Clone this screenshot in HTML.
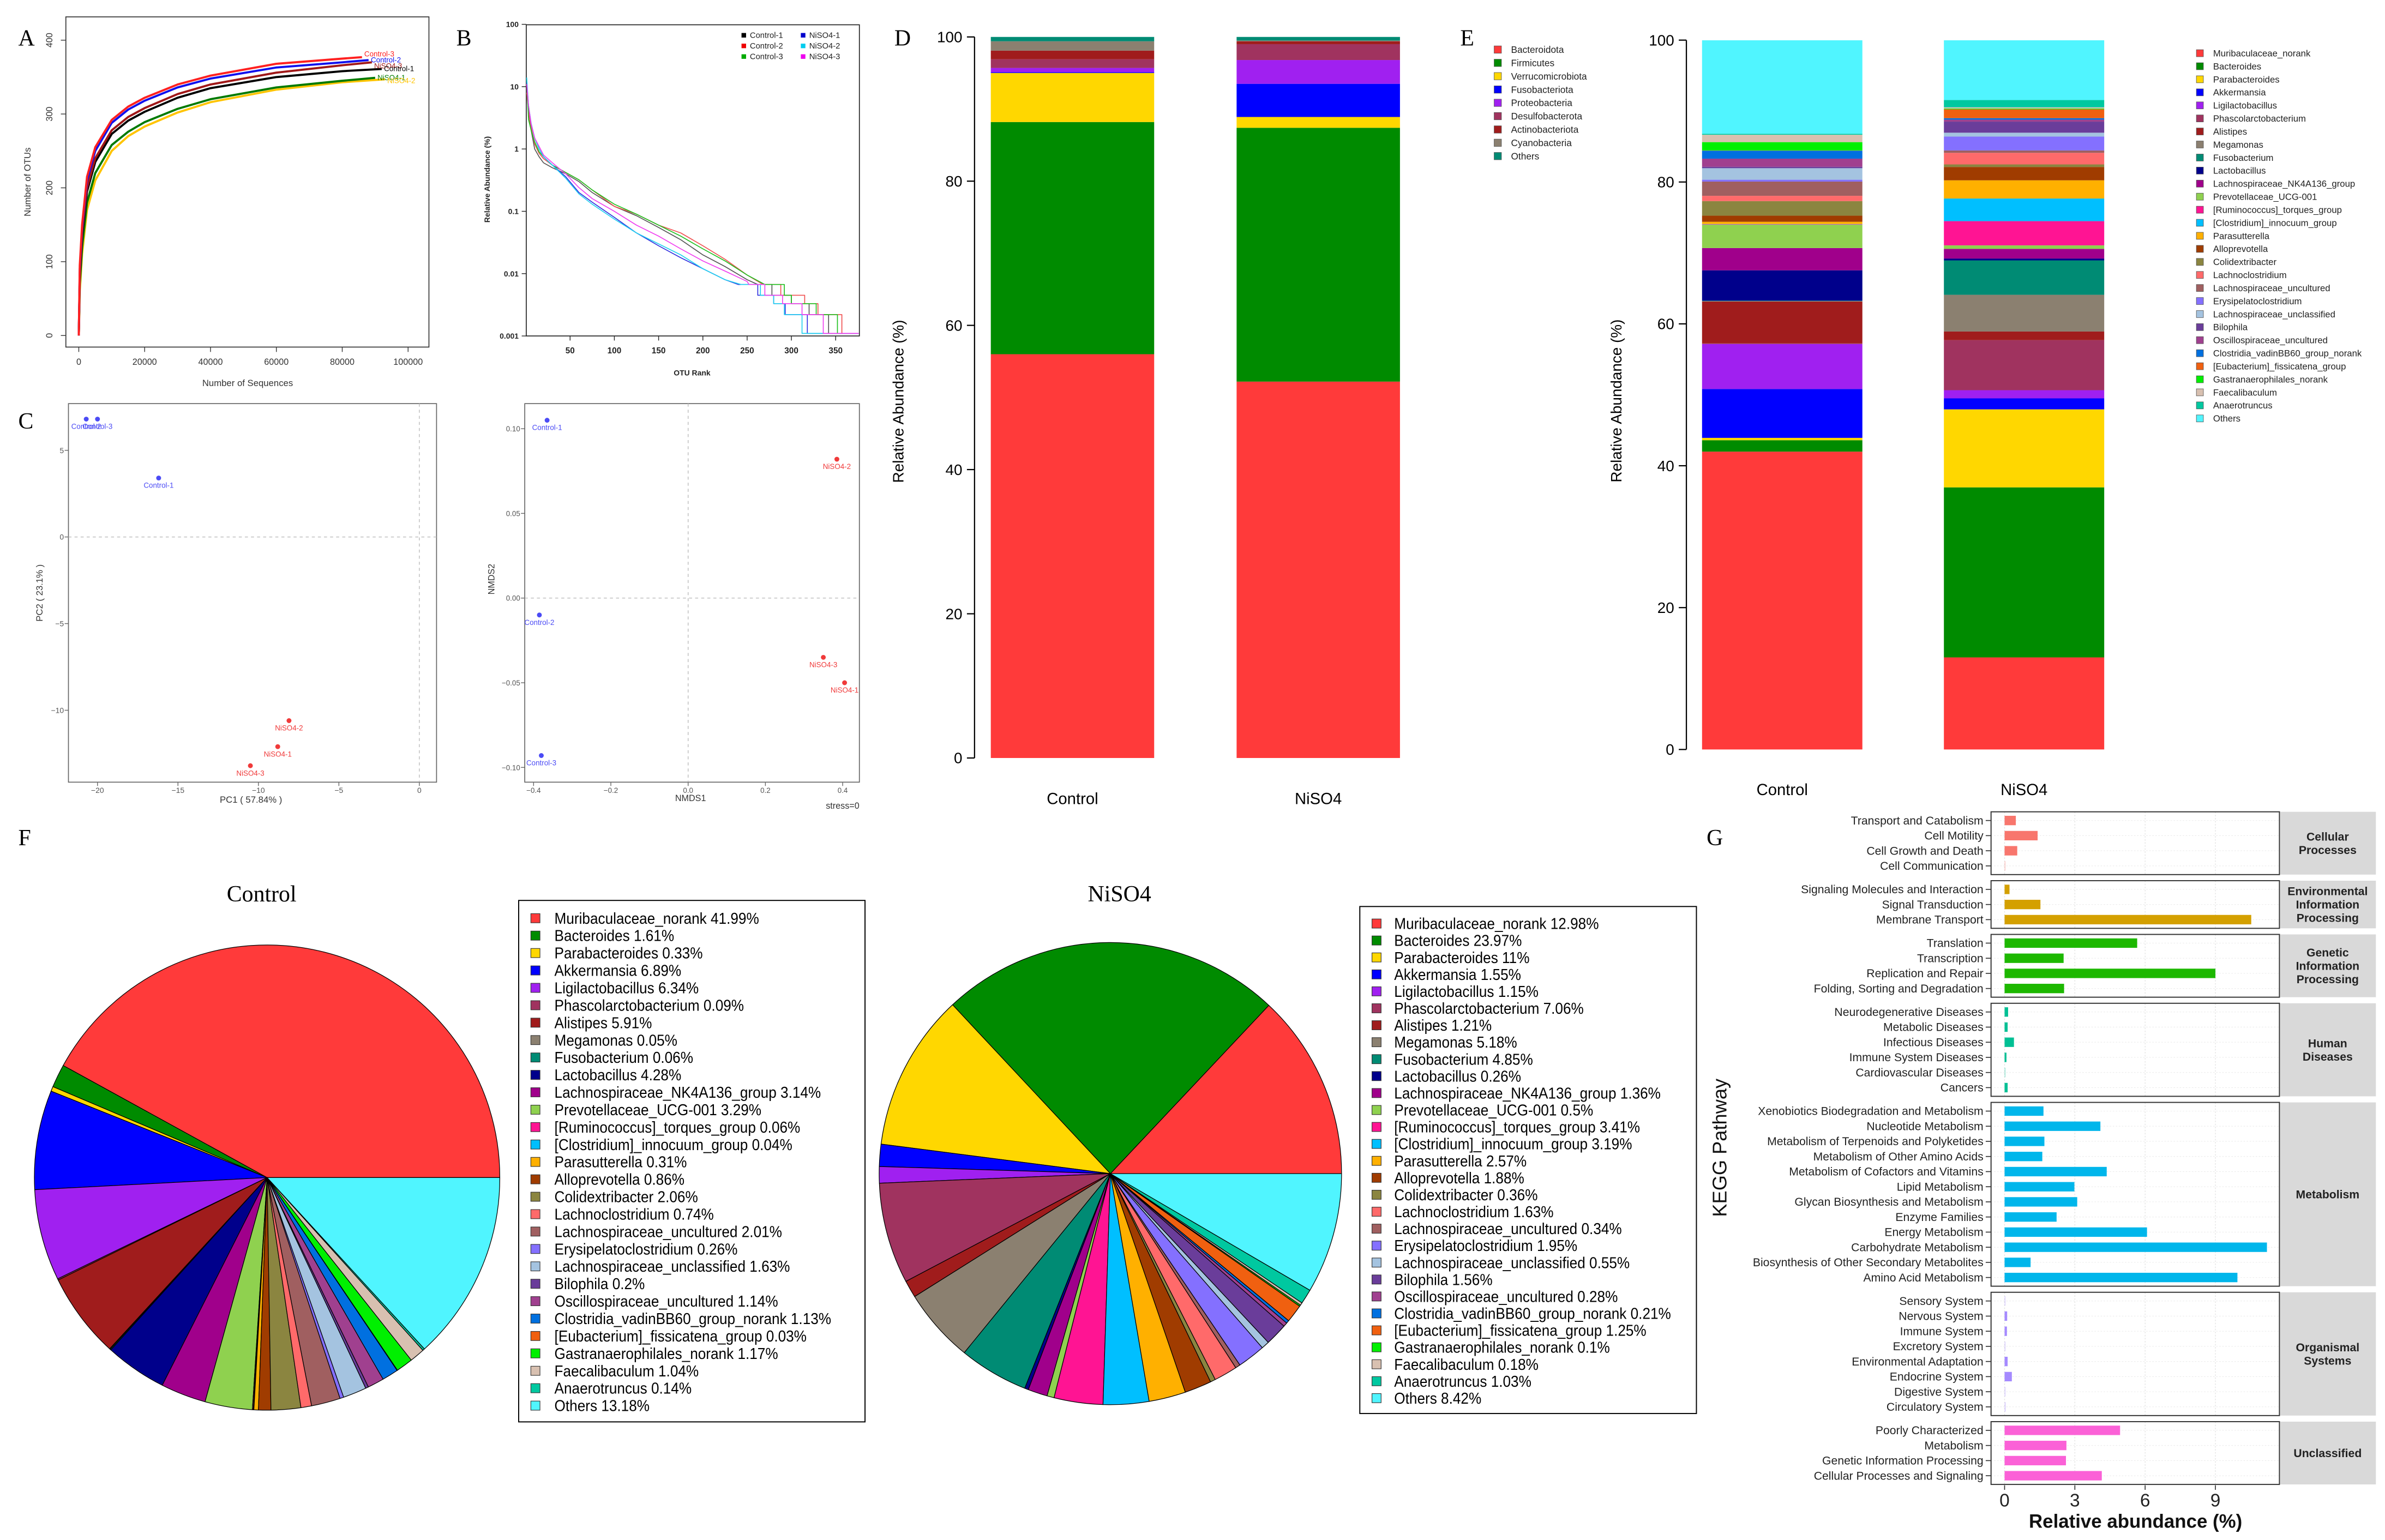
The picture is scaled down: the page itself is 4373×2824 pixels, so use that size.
<!DOCTYPE html>
<html><head><meta charset="utf-8"><title>Microbiome figure</title>
<style>
html,body{margin:0;padding:0;background:#fff;}
svg{display:block;font-family:"Liberation Sans",sans-serif;}
.serif{font-family:"Liberation Serif",serif;}
</style></head>
<body>
<svg id="fig" xmlns="http://www.w3.org/2000/svg" width="4373" height="2824" viewBox="0 0 1568 1013" preserveAspectRatio="none">
<rect x="0" y="0" width="1568" height="1013" fill="#fff"/>
<text class="serif" x="12" y="30" font-size="15">A</text>
<text class="serif" x="300" y="30" font-size="15">B</text>
<text class="serif" x="12" y="282" font-size="15">C</text>
<text class="serif" x="588" y="30" font-size="15">D</text>
<text class="serif" x="960" y="30" font-size="15">E</text>
<text class="serif" x="12" y="556" font-size="15">F</text>
<text class="serif" x="1122" y="556" font-size="15">G</text>
<g id="gA"></g>
<g id="gB"></g>
<g id="gC"></g>
<g id="gN"></g>
<g id="gD"></g>
<g id="gE"></g>
<g id="gF"></g>
<g id="gG"></g>
</svg>
<script>
// ---------- DATA ----------
// Panel A rarefaction
const aSeqX = [0,300,1000,2500,5000,10000,15000,20000,30000,40000,60000,80000];
const aNames = ["Control-3","Control-2","NiSO4-3","Control-1","NiSO4-1","NiSO4-2"];
const aColors = ["#FF2020","#1010EE","#A01818","#000000","#007A00","#FFC400"];
const aEndX = [86000,88000,89000,92000,90000,93000];
const aEndY = [377,373,370,361,349,347];
const aCtrl3 = [0,95,150,215,255,292,310,322,340,352,368,375];
const aCtrl2 = [0,90,145,210,250,288,306,318,336,348,363,370];
const aNi3 = [0,85,140,200,240,278,296,308,327,340,356,366];
const aCtrl1 = [0,82,135,195,235,273,291,303,322,335,350,358];
const aNi1 = [0,70,120,180,220,258,276,289,307,320,336,345];
const aNi2 = [0,60,110,170,210,250,270,283,302,316,333,343];
const aXTicks = [0,20000,40000,60000,80000,100000];
const aYTicks = [0,100,200,300,400];
// Panel B rank abundance
const bRanks = [1,3,6,10,15,20,30,45,60,75,100,125,150,175,200,225,250];
const bNames = ["Control-1","Control-2","Control-3","NiSO4-1","NiSO4-2","NiSO4-3"];
const bColors = ["#555555","#F05050","#20C020","#3030E0","#20D0F0","#F040F0"];
const bCtrl1 = [12,4,2,1.0,0.75,0.6,0.5,0.4,0.3,0.2,0.12,0.085,0.055,0.035,0.02,0.013,0.008];
const bCtrl2 = [8,4,2.2,1.2,0.85,0.7,0.55,0.42,0.32,0.22,0.12,0.09,0.06,0.045,0.028,0.017,0.0095];
const bCtrl3 = [13,3,2,1.3,0.9,0.75,0.55,0.42,0.32,0.22,0.13,0.09,0.06,0.04,0.025,0.016,0.0095];
const bNi1 = [12,5,2.5,1.5,1.0,0.75,0.55,0.36,0.2,0.14,0.08,0.045,0.028,0.018,0.012,0.008,0.0055];
const bNi2 = [14,5,2.6,1.5,1.0,0.75,0.55,0.34,0.19,0.13,0.075,0.045,0.03,0.02,0.012,0.008,0.0055];
const bNi3 = [11,5,2.5,1.5,1.1,0.8,0.6,0.4,0.24,0.16,0.1,0.06,0.04,0.025,0.016,0.011,0.0075];
const bLevels = [0.0067,0.0045,0.0033,0.0022,0.0011];
const bStepCtrl1 = [262,278,300,320,342];
const bStepCtrl2 = [268,288,315,330,357];
const bStepCtrl3 = [270,292,300,328,352];
const bStepNi1 = [240,262,280,293,318];
const bStepNi2 = [243,265,280,292,312];
const bStepNi3 = [252,270,290,312,336];
const bYTicks = [100,10,1,0.1,0.01,0.001];
const bYLabels = ["100","10","1","0.1","0.01","0.001"];
const bXTicks = [50,100,150,200,250,300,350];
// Panel C PCA
const pcaNames = ["Control-2","Control-3","Control-1","NiSO4-2","NiSO4-1","NiSO4-3"];
const pcaX = [-20.7,-20.0,-16.2,-8.1,-8.8,-10.5];
const pcaY = [6.8,6.8,3.4,-10.6,-12.1,-13.2];
const pcaXTicks = [-20,-15,-10,-5,0];
const pcaYTicks = [5,0,-5,-10];
// NMDS
const nmdsNames = ["Control-1","Control-2","Control-3","NiSO4-2","NiSO4-3","NiSO4-1"];
const nmdsX = [-0.365,-0.385,-0.38,0.385,0.35,0.405];
const nmdsY = [0.105,-0.010,-0.093,0.082,-0.035,-0.050];
const nmdsXTicks = [-0.4,-0.2,0.0,0.2,0.4];
const nmdsXLabels = ["-0.4","-0.2","0.0","0.2","0.4"];
const nmdsYTicks = [0.10,0.05,0.00,-0.05,-0.10];
const nmdsYLabels = ["0.10","0.05","0.00","-0.05","-0.10"];
// Panel D phylum
const groups = ["Control","NiSO4"];
const phyla = ["Bacteroidota","Firmicutes","Verrucomicrobiota","Fusobacteriota","Proteobacteria","Desulfobacterota","Actinobacteriota","Cyanobacteria","Others"];
const phylaColors = ["#FF3A3A","#008B00","#FFD700","#0000FF","#A020F0","#A0335F","#A01C1C","#8B8070","#008B74"];
const phylumControl = [56.0,32.2,6.8,0.1,0.6,1.2,1.2,1.3,0.6];
const phylumNiSO4 = [52.2,35.2,1.5,4.6,3.3,2.2,0.4,0.1,0.5];
const pctTicks = [0,20,40,60,80,100];
// Panel E / F genus
const genera = ["Muribaculaceae_norank","Bacteroides","Parabacteroides","Akkermansia","Ligilactobacillus","Phascolarctobacterium","Alistipes","Megamonas","Fusobacterium","Lactobacillus","Lachnospiraceae_NK4A136_group","Prevotellaceae_UCG-001","[Ruminococcus]_torques_group","[Clostridium]_innocuum_group","Parasutterella","Alloprevotella","Colidextribacter","Lachnoclostridium","Lachnospiraceae_uncultured","Erysipelatoclostridium","Lachnospiraceae_unclassified","Bilophila","Oscillospiraceae_uncultured","Clostridia_vadinBB60_group_norank","[Eubacterium]_fissicatena_group","Gastranaerophilales_norank","Faecalibaculum","Anaerotruncus","Others"];
const genusColors = ["#FF3A3A","#008B00","#FFD700","#0000FF","#A020F0","#A0335F","#A01C1C","#8B8070","#008B74","#00008B","#A0008B","#8FD14F","#FF1493","#00BFFF","#FFB000","#A03C00","#8B8540","#FF6A6A","#A05F60","#8470FF","#A4C3E0","#6A3D9A","#A0408F","#0070E0","#F06010","#00F000","#D8C0B0","#00C8A0","#50F5FF"];
const genusControl = [41.99,1.61,0.33,6.89,6.34,0.09,5.91,0.05,0.06,4.28,3.14,3.29,0.06,0.04,0.31,0.86,2.06,0.74,2.01,0.26,1.63,0.2,1.14,1.13,0.03,1.17,1.04,0.14,13.18];
const genusNiSO4 = [12.98,23.97,11,1.55,1.15,7.06,1.21,5.18,4.85,0.26,1.36,0.5,3.41,3.19,2.57,1.88,0.36,1.63,0.34,1.95,0.55,1.56,0.28,0.21,1.25,0.1,0.18,1.03,8.42];
// Panel G KEGG
const keggGroups = ["Cellular\nProcesses","Environmental\nInformation\nProcessing","Genetic\nInformation\nProcessing","Human\nDiseases","Metabolism","Organismal\nSystems","Unclassified"];
const keggColors = ["#F8766D","#D4A000","#1DB800","#00C094","#00B6EB","#A58AFF","#FB61D7"];
const keggCellular = ["Transport and Catabolism","Cell Motility","Cell Growth and Death","Cell Communication"];
const keggCellularVals = [0.48,1.41,0.54,0.02];
const keggEnv = ["Signaling Molecules and Interaction","Signal Transduction","Membrane Transport"];
const keggEnvVals = [0.21,1.53,10.53];
const keggGen = ["Translation","Transcription","Replication and Repair","Folding, Sorting and Degradation"];
const keggGenVals = [5.66,2.52,9.0,2.54];
const keggHuman = ["Neurodegenerative Diseases","Metabolic Diseases","Infectious Diseases","Immune System Diseases","Cardiovascular Diseases","Cancers"];
const keggHumanVals = [0.15,0.13,0.4,0.08,0.02,0.13];
const keggMet = ["Xenobiotics Biodegradation and Metabolism","Nucleotide Metabolism","Metabolism of Terpenoids and Polyketides","Metabolism of Other Amino Acids","Metabolism of Cofactors and Vitamins","Lipid Metabolism","Glycan Biosynthesis and Metabolism","Enzyme Families","Energy Metabolism","Carbohydrate Metabolism","Biosynthesis of Other Secondary Metabolites","Amino Acid Metabolism"];
const keggMetVals = [1.66,4.09,1.7,1.61,4.36,2.98,3.1,2.22,6.08,11.2,1.11,9.94];
const keggOrg = ["Sensory System","Nervous System","Immune System","Excretory System","Environmental Adaptation","Endocrine System","Digestive System","Circulatory System"];
const keggOrgVals = [0.01,0.11,0.1,0.04,0.13,0.31,0.04,0.05];
const keggUnc = ["Poorly Characterized","Metabolism","Genetic Information Processing","Cellular Processes and Signaling"];
const keggUncVals = [4.93,2.64,2.62,4.15];
const keggXTicks = [0,3,6,9];

// ---------- HELPERS ----------
const NS = "http://www.w3.org/2000/svg";
function mk(tag, attrs, parent){ const e = document.createElementNS(NS, tag); for (const k in attrs) e.setAttribute(k, attrs[k]); parent.appendChild(e); return e; }
function T(parent, x, y, s, attrs){ const e = mk('text', Object.assign({x:x, y:y}, attrs||{}), parent); e.textContent = s; return e; }
function nm(el, name){
  
  
  return el;
}
function slug(s){ return s.toLowerCase().replace(/[^a-z0-9]+/g,'-').replace(/^-|-$/g,''); }

// ---------- PANEL A ----------
(function(){
  const g = document.getElementById('gA');
  const xA = v => 51.8 + v*0.002165;
  const yA = v => 220.7 - v*0.4857;
  nm(mk('rect',{x:43.3,y:11.1,width:238.7,height:217.2,fill:'none',stroke:'#333','stroke-width':0.6},g),'plot-frame');
  aXTicks.forEach(t=>{
    nm(mk('line',{x1:xA(t),x2:xA(t),y1:228.3,y2:231.5,stroke:'#333','stroke-width':0.5},g),'x-tick');
    nm(T(g,xA(t),240,String(t),{'font-size':5.8,'text-anchor':'middle',fill:'#333'}),'x-tick-label');
  });
  aYTicks.forEach(t=>{
    nm(mk('line',{x1:40,x2:43.3,y1:yA(t),y2:yA(t),stroke:'#333','stroke-width':0.5},g),'y-tick');
    nm(T(g,34.5,yA(t),String(t),{'font-size':5.8,'text-anchor':'middle',fill:'#333',transform:`rotate(-90 34.5 ${yA(t)})`}),'y-tick-label');
  });
  nm(T(g,162.8,254,'Number of Sequences',{'font-size':6,'text-anchor':'middle',fill:'#333'}),'x-axis-title');
  nm(T(g,20,119.7,'Number of OTUs',{'font-size':6,'text-anchor':'middle',fill:'#333',transform:'rotate(-90 20 119.7)'}),'y-axis-title');
  const series = [aCtrl3,aCtrl2,aNi3,aCtrl1,aNi1,aNi2];
  const order = [5,4,3,2,1,0];
  order.forEach(i=>{
    const ys = series[i];
    let pts = aSeqX.map((x,j)=>xA(x)+','+yA(ys[j]));
    pts.push(xA(aEndX[i])+','+yA(aEndY[i]));
    nm(mk('polyline',{points:pts.join(' '),fill:'none',stroke:aColors[i],'stroke-width':1.4,'stroke-linejoin':'round'},g),'curve-'+slug(aNames[i]));
  });
  const lblDy = [-2,0,2.5,0,0,1];
  aNames.forEach((n,i)=>{
    nm(T(g,xA(aEndX[i])+1.5,yA(aEndY[i])+lblDy[i]+1.5,n,{'font-size':4.8,fill:aColors[i]}),'curve-label-'+slug(n));
  });
})();

// ---------- PANEL B ----------
(function(){
  const g = document.getElementById('gB');
  const xB = r => 374.8 + (r-50)*0.582;
  const yB = v => 221 - (Math.log10(v)+3)*41;
  nm(mk('rect',{x:346,y:16.3,width:219,height:204.7,fill:'none',stroke:'#222','stroke-width':0.6},g),'plot-frame');
  bYTicks.forEach((t,i)=>{
    nm(mk('line',{x1:343,x2:346,y1:yB(t),y2:yB(t),stroke:'#222','stroke-width':0.5},g),'y-tick');
    nm(T(g,341,yB(t)+1.8,bYLabels[i],{'font-size':5,'text-anchor':'end','font-weight':'bold',fill:'#222'}),'y-tick-label');
  });
  bXTicks.forEach(t=>{
    nm(mk('line',{x1:xB(t),x2:xB(t),y1:221,y2:224,stroke:'#222','stroke-width':0.5},g),'x-tick');
    nm(T(g,xB(t),232.5,String(t),{'font-size':5.5,'text-anchor':'middle','font-weight':'bold',fill:'#222'}),'x-tick-label');
  });
  nm(T(g,455,247,'OTU Rank',{'font-size':5,'text-anchor':'middle','font-weight':'bold',fill:'#222'}),'x-axis-title');
  nm(T(g,322,118,'Relative Abundance (%)',{'font-size':5,'text-anchor':'middle','font-weight':'bold',fill:'#222',transform:'rotate(-90 322 118)'}),'y-axis-title');
  const series = [bCtrl1,bCtrl2,bCtrl3,bNi1,bNi2,bNi3];
  const steps = [bStepCtrl1,bStepCtrl2,bStepCtrl3,bStepNi1,bStepNi2,bStepNi3];
  series.forEach((vals,i)=>{
    let d = 'M'+xB(bRanks[0])+','+yB(vals[0]);
    for(let j=1;j<bRanks.length;j++){
      if(bRanks[j] > steps[i][0]) break;
      d += ' L'+xB(bRanks[j])+','+yB(vals[j]);
    }
    d += ' L'+xB(steps[i][0])+','+yB(bLevels[0]);
    for(let k=1;k<bLevels.length;k++){
      d += ' L'+xB(steps[i][k])+','+yB(bLevels[k-1])+' L'+xB(steps[i][k])+','+yB(bLevels[k]);
    }
    d += ' L'+xB(376)+','+yB(bLevels[bLevels.length-1]);
    nm(mk('path',{d:d,fill:'none',stroke:bColors[i],'stroke-width':0.6,'stroke-linejoin':'round'},g),'curve-'+slug(bNames[i]));
  });
  const markerCols = ["#000","#E00","#0A0","#00C","#0CE","#E0E"];
  bNames.forEach((n,i)=>{
    const col = Math.floor(i/3), row = i%3;
    const lx = col? 528 : 489, ly = 23.2 + row*7;
    nm(mk('rect',{x:lx-1.5,y:ly-1.5,width:3,height:3,fill:markerCols[i]},g),'legend-marker-'+slug(n));
    nm(T(g,lx+4,ly+1.8,n,{'font-size':5.3,fill:'#222'}),'legend-label-'+slug(n));
  });
})();

// ---------- PANEL C (PCA) ----------
(function(){
  const g = document.getElementById('gC');
  const xC = v => 275.7 + v*10.58;
  const yC = v => 353.2 - v*11.4;
  nm(mk('rect',{x:45,y:265.5,width:242,height:249,fill:'none',stroke:'#666','stroke-width':0.6},g),'plot-frame');
  nm(mk('line',{x1:xC(0),x2:xC(0),y1:265.5,y2:514.5,stroke:'#bbb','stroke-width':0.5,'stroke-dasharray':'2,2'},g),'zero-line-vertical');
  nm(mk('line',{x1:45,x2:287,y1:yC(0),y2:yC(0),stroke:'#bbb','stroke-width':0.5,'stroke-dasharray':'2,2'},g),'zero-line-horizontal');
  pcaXTicks.forEach(t=>{
    nm(mk('line',{x1:xC(t),x2:xC(t),y1:514.5,y2:517,stroke:'#666','stroke-width':0.5},g),'x-tick');
    nm(T(g,xC(t),521.5,String(t).replace('-','\u2212'),{'font-size':5,'text-anchor':'middle',fill:'#555'}),'x-tick-label');
  });
  pcaYTicks.forEach(t=>{
    nm(mk('line',{x1:42.5,x2:45,y1:yC(t),y2:yC(t),stroke:'#666','stroke-width':0.5},g),'y-tick');
    nm(T(g,42,yC(t)+1.8,String(t).replace('-','\u2212'),{'font-size':5,'text-anchor':'end',fill:'#555'}),'y-tick-label');
  });
  nm(T(g,165,528,'PC1 ( 57.84% )',{'font-size':6,'text-anchor':'middle',fill:'#333'}),'x-axis-title');
  nm(T(g,28,390,'PC2 ( 23.1% )',{'font-size':6,'text-anchor':'middle',fill:'#333',transform:'rotate(-90 28 390)'}),'y-axis-title');
  pcaNames.forEach((n,i)=>{
    const c = n.startsWith('Control') ? '#4B4BF5' : '#F03A3A';
    nm(mk('circle',{cx:xC(pcaX[i]),cy:yC(pcaY[i]),r:1.6,fill:c},g),'point-'+slug(n));
    nm(T(g,xC(pcaX[i]),yC(pcaY[i])+6.5,n,{'font-size':4.8,'text-anchor':'middle',fill:c}),'point-label-'+slug(n));
  });
})();

// ---------- NMDS ----------
(function(){
  const g = document.getElementById('gN');
  const xN = v => 350.8 + (v+0.4)*254;
  const yN = v => 393.4 - v*1114;
  nm(mk('rect',{x:345,y:265.5,width:220,height:249,fill:'none',stroke:'#666','stroke-width':0.6},g),'plot-frame');
  nm(mk('line',{x1:xN(0),x2:xN(0),y1:265.5,y2:514.5,stroke:'#bbb','stroke-width':0.5,'stroke-dasharray':'2,2'},g),'zero-line-vertical');
  nm(mk('line',{x1:345,x2:565,y1:yN(0),y2:yN(0),stroke:'#bbb','stroke-width':0.5,'stroke-dasharray':'2,2'},g),'zero-line-horizontal');
  nmdsXTicks.forEach((t,i)=>{
    nm(mk('line',{x1:xN(t),x2:xN(t),y1:514.5,y2:517,stroke:'#666','stroke-width':0.5},g),'x-tick');
    nm(T(g,xN(t),521.5,nmdsXLabels[i].replace('-','\u2212'),{'font-size':4.8,'text-anchor':'middle',fill:'#555'}),'x-tick-label');
  });
  nmdsYTicks.forEach((t,i)=>{
    nm(mk('line',{x1:342.5,x2:345,y1:yN(t),y2:yN(t),stroke:'#666','stroke-width':0.5},g),'y-tick');
    nm(T(g,342,yN(t)+1.8,nmdsYLabels[i].replace('-','\u2212'),{'font-size':4.8,'text-anchor':'end',fill:'#555'}),'y-tick-label');
  });
  nm(T(g,454,527,'NMDS1',{'font-size':5.8,'text-anchor':'middle',fill:'#333'}),'x-axis-title');
  nm(T(g,325,381,'NMDS2',{'font-size':5.8,'text-anchor':'middle',fill:'#333',transform:'rotate(-90 325 381)'}),'y-axis-title');
  nm(T(g,565,532,'stress=0',{'font-size':5.8,'text-anchor':'end',fill:'#333'}),'stress-label');
  nmdsNames.forEach((n,i)=>{
    const c = n.startsWith('Control') ? '#4B4BF5' : '#F03A3A';
    nm(mk('circle',{cx:xN(nmdsX[i]),cy:yN(nmdsY[i]),r:1.6,fill:c},g),'point-'+slug(n));
    nm(T(g,xN(nmdsX[i]),yN(nmdsY[i])+6.5,n,{'font-size':4.8,'text-anchor':'middle',fill:c}),'point-label-'+slug(n));
  });
})();

// ---------- STACKED BAR HELPER ----------
function stacked(g, yS, axisX, barX, barW, dataSets, colors, names, catY, fs){
  nm(mk('line',{x1:axisX,x2:axisX,y1:yS(100),y2:yS(0),stroke:'#000','stroke-width':0.8},g),'y-axis-line');
  pctTicks.forEach(t=>{
    nm(mk('line',{x1:axisX-5,x2:axisX,y1:yS(t),y2:yS(t),stroke:'#000','stroke-width':0.8},g),'y-tick');
    nm(T(g,axisX-8,yS(t)+3.5,String(t),{'font-size':fs,'text-anchor':'end',fill:'#000'}),'y-tick-label');
  });
  dataSets.forEach((vals,gi)=>{
    let acc = 0;
    vals.forEach((v,k)=>{
      const yt = yS(acc+v), yb = yS(acc);
      nm(mk('rect',{x:barX[gi],y:yt,width:barW,height:Math.max(0,yb-yt),fill:colors[k]},g),'bar-'+slug(groups[gi])+'-'+slug(names[k]));
      acc += v;
    });
    nm(T(g,barX[gi]+barW/2,catY,groups[gi],{'font-size':fs+0.5,'text-anchor':'middle',fill:'#000'}),'x-category-label-'+slug(groups[gi]));
  });
}

// ---------- PANEL D ----------
(function(){
  const g = document.getElementById('gD');
  const yD = v => 498.6 - v*4.743;
  stacked(g, yD, 640.7, [651.4,813], 107.4, [phylumControl, phylumNiSO4], phylaColors, phyla, 529, 10);
  nm(T(g,594,264,'Relative Abundance (%)',{'font-size':10,'text-anchor':'middle',fill:'#000',transform:'rotate(-90 594 264)'}),'y-axis-title');
  phyla.forEach((p,i)=>{
    const y = 32.6 + i*8.76;
    nm(mk('rect',{x:982.3,y:y-2.4,width:4.8,height:4.8,fill:phylaColors[i],stroke:'#555','stroke-width':0.3},g),'legend-marker-'+slug(p));
    nm(T(g,993.4,y+2.2,p,{'font-size':6.2,fill:'#222'}),'legend-label-'+slug(p));
  });
})();

// ---------- PANEL E ----------
(function(){
  const g = document.getElementById('gE');
  const yE = v => 493 - v*4.666;
  stacked(g, yE, 1108.7, [1119,1278], 105.4, [genusControl, genusNiSO4], genusColors, genera, 523, 10);
  nm(T(g,1066,263.7,'Relative Abundance (%)',{'font-size':10,'text-anchor':'middle',fill:'#000',transform:'rotate(-90 1066 263.7)'}),'y-axis-title');
  genera.forEach((p,i)=>{
    const y = 35 + i*8.58;
    nm(mk('rect',{x:1444,y:y-2.3,width:4.6,height:4.6,fill:genusColors[i],stroke:'#555','stroke-width':0.3},g),'legend-marker-'+slug(p));
    nm(T(g,1455,y+2.1,p,{'font-size':6,fill:'#222'}),'legend-label-'+slug(p));
  });
})();

// ---------- PANEL F ----------
(function(){
  const g = document.getElementById('gF');
  const pies = [
    {name:'Control', vals:genusControl, cx:175.6, cy:774.6, r:153, tx:172, box:[341,592.3,227.7,343], mx:352, lx:364.5, ly:604, step:11.45},
    {name:'NiSO4', vals:genusNiSO4, cx:730, cy:772, r:152, tx:736, box:[894,596.3,221.3,333.5], mx:905, lx:916.6, ly:607.5, step:11.15}
  ];
  pies.forEach(p=>{
    nm(T(g,p.tx,593,p.name,{'font-size':15,'text-anchor':'middle',fill:'#000',class:'serif'}),'pie-title-'+slug(p.name));
    const total = p.vals.reduce((a,b)=>a+b,0);
    let acc = 0;
    p.vals.forEach((v,k)=>{
      const a0 = acc/total*2*Math.PI, a1 = (acc+v)/total*2*Math.PI;
      acc += v;
      const x0 = p.cx + p.r*Math.cos(a0), y0 = p.cy - p.r*Math.sin(a0);
      const x1 = p.cx + p.r*Math.cos(a1), y1 = p.cy - p.r*Math.sin(a1);
      const large = (a1-a0) > Math.PI ? 1 : 0;
      const d = `M${p.cx},${p.cy} L${x0},${y0} A${p.r},${p.r} 0 ${large} 0 ${x1},${y1} Z`;
      nm(mk('path',{d:d,fill:genusColors[k],stroke:'#000','stroke-width':0.45,'stroke-linejoin':'round'},g),'slice-'+slug(p.name)+'-'+slug(genera[k]));
    });
    nm(mk('rect',{x:p.box[0],y:p.box[1],width:p.box[2],height:p.box[3],fill:'none',stroke:'#000','stroke-width':0.7},g),'legend-box-'+slug(p.name));
    genera.forEach((n,k)=>{
      const y = p.ly + k*p.step;
      nm(mk('rect',{x:p.mx-3,y:y-3,width:6,height:6,fill:genusColors[k],stroke:'#333','stroke-width':0.4},g),'legend-marker-'+slug(p.name)+'-'+slug(n));
      nm(T(g,p.lx,y+3.6,n+' '+p.vals[k]+'%',{'font-size':10.2,fill:'#000',transform:`translate(${p.lx} 0) scale(0.92 1) translate(${-p.lx} 0)`}),'legend-label-'+slug(p.name)+'-'+slug(n));
    });
  });
})();

// ---------- PANEL G ----------
(function(){
  const g = document.getElementById('gG');
  const xG = v => 1317.9 + v*15.4;
  const cats = [keggCellular,keggEnv,keggGen,keggHuman,keggMet,keggOrg,keggUnc];
  const vals = [keggCellularVals,keggEnvVals,keggGenVals,keggHumanVals,keggMetVals,keggOrgVals,keggUncVals];
  const boxL = 1309, boxR = 1498.6, stripR = 1562, rowH = 9.95;
  let top = 534;
  cats.forEach((list,gi)=>{
    const h = list.length*rowH + 1.5;
    nm(mk('rect',{x:boxL,y:top,width:boxR-boxL,height:h,fill:'#fff'},g),'facet-panel-'+slug(keggGroups[gi]));
    keggXTicks.forEach(t=>{
      nm(mk('line',{x1:xG(t),x2:xG(t),y1:top,y2:top+h,stroke:'#e4e4e4','stroke-width':0.5,'stroke-dasharray':'1,1'},g),'grid-line');
    });
    list.forEach((c,ri)=>{
      const y = top + 0.75 + (ri+0.5)*rowH;
      nm(mk('line',{x1:boxL,x2:boxR,y1:y,y2:y,stroke:'#ececec','stroke-width':0.4,'stroke-dasharray':'1,1'},g),'grid-line');
      const v = vals[gi][ri];
      const light = v < 0.06;
      nm(mk('rect',{x:xG(0),y:y-3.1,width:Math.max(0.6,xG(v)-xG(0)),height:6.2,fill:keggColors[gi],opacity:light?0.35:1},g),'bar-'+slug(c));
      nm(mk('line',{x1:boxL-3.5,x2:boxL,y1:y,y2:y,stroke:'#333','stroke-width':0.6},g),'y-tick');
      nm(T(g,boxL-5,y+2.6,c,{'font-size':7.6,'text-anchor':'end',fill:'#222'}),'category-label-'+slug(c));
    });
    nm(mk('rect',{x:boxL,y:top,width:boxR-boxL,height:h,fill:'none',stroke:'#333','stroke-width':0.7},g),'facet-border-'+slug(keggGroups[gi]));
    nm(mk('rect',{x:boxR+0.5,y:top,width:stripR-boxR-0.5,height:h,fill:'#D9D9D9'},g),'facet-strip-'+slug(keggGroups[gi]));
    const lines = keggGroups[gi].split('\n');
    const cy = top + h/2;
    lines.forEach((ln,li)=>{
      nm(T(g,(boxR+stripR)/2,cy + (li-(lines.length-1)/2)*8.8 + 2.7,ln,{'font-size':7.6,'font-weight':'bold','text-anchor':'middle',fill:'#222'}),'facet-label-'+slug(keggGroups[gi]));
    });
    top += h + 4;
  });
  keggXTicks.forEach(t=>{
    nm(mk('line',{x1:xG(t),x2:xG(t),y1:977,y2:980,stroke:'#333','stroke-width':0.6},g),'x-tick');
    nm(T(g,xG(t),991,String(t),{'font-size':12,'text-anchor':'middle',fill:'#222'}),'x-tick-label');
  });
  nm(T(g,1404,1005,'Relative abundance (%)',{'font-size':12.5,'font-weight':'bold','text-anchor':'middle',fill:'#111'}),'x-axis-title');
  nm(T(g,1135,755,'KEGG Pathway',{'font-size':13,'text-anchor':'middle',fill:'#111',transform:'rotate(-90 1135 755)'}),'y-axis-title');
})();
</script>
</body></html>
